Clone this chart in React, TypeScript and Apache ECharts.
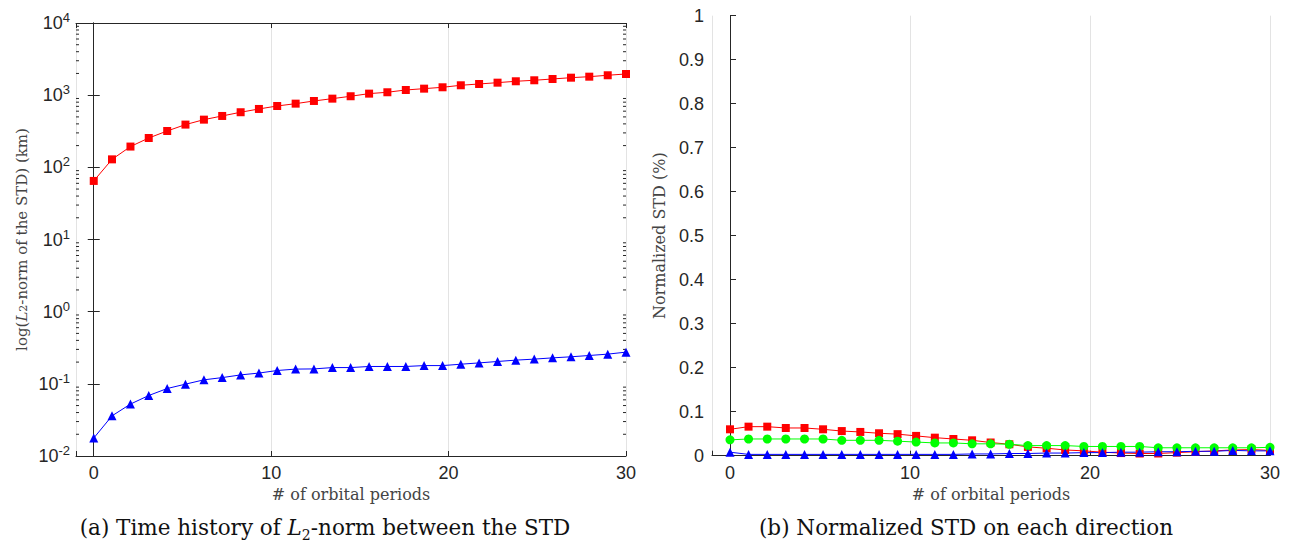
import React, { useEffect, useRef } from "react";
import * as echarts from "echarts";

// orbital period positions of the 30 samples
const periods = [0, 1.03, 2.07, 3.1, 4.14, 5.17, 6.21, 7.24, 8.28, 9.31, 10.34, 11.38, 12.41, 13.45, 14.48, 15.52, 16.55, 17.59, 18.62, 19.66, 20.69, 21.72, 22.76, 23.79, 24.83, 25.86, 26.9, 27.93, 28.97, 30];

// (a) L2-norm of the STD (km)
const normRed = [64.8, 129, 194, 255, 319, 391, 458, 515, 580, 644, 708, 763, 831, 895, 966, 1050, 1097, 1180, 1231, 1286, 1371, 1429, 1490, 1558, 1608, 1676, 1747, 1804, 1887, 1966];
const normBlue = [0.0177, 0.036, 0.0524, 0.0689, 0.0861, 0.099, 0.1136, 0.122, 0.133, 0.141, 0.153, 0.16, 0.161, 0.168, 0.168, 0.174, 0.174, 0.174, 0.179, 0.179, 0.187, 0.195, 0.204, 0.213, 0.22, 0.229, 0.237, 0.247, 0.258, 0.275];

// (b) Normalized STD (%)
const stdRed = [0.06, 0.066, 0.066, 0.063, 0.063, 0.06, 0.056, 0.054, 0.051, 0.049, 0.045, 0.041, 0.038, 0.035, 0.03, 0.026, 0.02, 0.017, 0.013, 0.011, 0.008, 0.006, 0.005, 0.005, 0.007, 0.009, 0.011, 0.013, 0.014, 0.012];
const stdGreen = [0.036, 0.038, 0.038, 0.038, 0.038, 0.038, 0.035, 0.035, 0.035, 0.033, 0.031, 0.029, 0.029, 0.027, 0.027, 0.026, 0.023, 0.023, 0.023, 0.021, 0.021, 0.021, 0.021, 0.018, 0.018, 0.018, 0.018, 0.018, 0.018, 0.019];
const stdBlue = [0.008, 0.003, 0.003, 0.003, 0.003, 0.003, 0.003, 0.003, 0.003, 0.003, 0.003, 0.003, 0.003, 0.004, 0.004, 0.005, 0.005, 0.006, 0.006, 0.007, 0.007, 0.008, 0.008, 0.009, 0.009, 0.01, 0.01, 0.012, 0.011, 0.011];

// log-axis minor tick values (2..9 x 10^k)
const minorLogTicks: number[] = [];
for (let k = -2; k <= 3; k++) for (let m = 2; m <= 9; m++) minorLogTicks.push(m * Math.pow(10, k));

const AX = "#262626";
const GRID = "#e3e3e3";
const SANS = "Liberation Sans, Arial, sans-serif";
const SERIF = "DejaVu Serif, serif";
const TICK_FS = 18;

const pair = (ys: number[]) => ys.map((y, i) => [periods[i], y]);

export default function App() {
  const ref = useRef<HTMLDivElement>(null);
  useEffect(() => {
    if (!ref.current) return;
    const chart = echarts.init(ref.current, undefined, { renderer: "svg" });
    const xLabel = {
      color: AX,
      fontFamily: SANS,
      fontSize: TICK_FS,
      margin: 8,
      formatter: (v: number) => (v < 0 ? "" : String(v)),
    };
    const xName = {
      color: "#444",
      fontFamily: SERIF,
      fontSize: 16,
    };
    const option: any = {
      animation: false,
      backgroundColor: "#fff",
      grid: [
        { left: 76, top: 23, width: 550, height: 433 },
        { left: 712, top: 15.7, width: 558, height: 440 },
      ],
      xAxis: [
        {
          type: "value", gridIndex: 0, min: -1, max: 30, splitNumber: 3,
          axisLine: { lineStyle: { color: AX } },
          axisTick: { inside: true, length: 5, lineStyle: { color: AX } },
          axisLabel: xLabel,
          splitLine: { show: true, lineStyle: { color: GRID } },
          name: "# of orbital periods", nameLocation: "middle", nameGap: 28,
          nameTextStyle: xName,
        },
        {
          type: "value", gridIndex: 0, min: -1, max: 30, splitNumber: 3, position: "top",
          axisLine: { lineStyle: { color: AX } },
          axisTick: { inside: true, length: 5, lineStyle: { color: AX } },
          axisLabel: { show: false },
          splitLine: { show: false },
        },
        {
          type: "value", gridIndex: 1, min: -1, max: 30, splitNumber: 3,
          axisLine: { lineStyle: { color: AX } },
          axisTick: { inside: true, length: 5, lineStyle: { color: AX } },
          axisLabel: xLabel,
          splitLine: { show: true, lineStyle: { color: GRID } },
          name: "# of orbital periods", nameLocation: "middle", nameGap: 28,
          nameTextStyle: xName,
        },
      ],
      yAxis: [
        {
          type: "log", gridIndex: 0, min: 0.01, max: 10000, logBase: 10, splitNumber: 6,
          axisLine: { show: true, lineStyle: { color: AX } },
          axisTick: { inside: true, length: 6, lineStyle: { color: AX } },
          splitLine: { show: false },
          axisLabel: {
            color: AX, margin: 6,
            formatter: (v: number) => `{b|10}{s|${Math.round(Math.log10(v))}}`,
            rich: {
              b: { fontFamily: SANS, fontSize: TICK_FS, color: AX, lineHeight: 24 },
              s: { fontFamily: SANS, fontSize: 13, color: AX, verticalAlign: "top", lineHeight: 24 },
            },
          },
          name: "log({i|L}{sub|2}-norm of the STD) (km)",
          nameLocation: "middle", nameGap: 47, nameRotate: 90,
          nameTextStyle: {
            color: "#444", fontFamily: SERIF, fontSize: 15,
            rich: {
              i: { fontFamily: SERIF, fontSize: 15, fontStyle: "italic", color: "#444" },
              sub: { fontFamily: SERIF, fontSize: 11, color: "#444", verticalAlign: "bottom" },
            },
          },
        },
        {
          type: "log", gridIndex: 0, min: 0.01, max: 10000, logBase: 10, splitNumber: 6, position: "right",
          axisLine: { show: true, lineStyle: { color: AX } },
          axisTick: { inside: true, length: 6, lineStyle: { color: AX } },
          splitLine: { show: false },
          axisLabel: { show: false },
        },
        {
          type: "value", gridIndex: 1, min: 0, max: 1, interval: 0.1,
          axisLine: { show: true, lineStyle: { color: AX } },
          axisTick: { inside: true, length: 6, lineStyle: { color: AX } },
          splitLine: { show: false },
          axisLabel: { color: AX, fontFamily: SANS, fontSize: TICK_FS, margin: 8 },
          name: "Normalized STD (%)",
          nameLocation: "middle", nameGap: 45, nameRotate: 90,
          nameTextStyle: { color: "#444", fontFamily: SERIF, fontSize: 16 },
        },
      ],
      series: [
        {
          type: "custom", xAxisIndex: 0, yAxisIndex: 0, silent: true, clip: false,
          data: minorLogTicks.map((v) => [-1, v]),
          renderItem: (_p: any, api: any) => {
            const v = api.value(1);
            const l = api.coord([-1, v]);
            const r = api.coord([30, v]);
            const st = { stroke: AX, lineWidth: 1 };
            return {
              type: "group",
              children: [
                { type: "line", shape: { x1: l[0], y1: l[1], x2: l[0] + 3, y2: l[1] }, style: st },
                { type: "line", shape: { x1: r[0], y1: r[1], x2: r[0] - 3, y2: r[1] }, style: st },
              ],
            };
          },
        },
        {
          type: "line", xAxisIndex: 0, yAxisIndex: 0, data: pair(normRed),
          symbol: "rect", symbolSize: 8, lineStyle: { color: "#ff0000", width: 1 },
          itemStyle: { color: "#ff0000" },
        },
        {
          type: "line", xAxisIndex: 0, yAxisIndex: 0, data: pair(normBlue),
          symbol: "triangle", symbolSize: 9, lineStyle: { color: "#0000ff", width: 1 },
          itemStyle: { color: "#0000ff" },
        },
        {
          type: "line", xAxisIndex: 2, yAxisIndex: 2, data: pair(stdRed),
          symbol: "rect", symbolSize: 8, lineStyle: { color: "#ff0000", width: 1 },
          itemStyle: { color: "#ff0000" },
        },
        {
          type: "line", xAxisIndex: 2, yAxisIndex: 2, data: pair(stdGreen),
          symbol: "circle", symbolSize: 9, lineStyle: { color: "#00ff00", width: 1 },
          itemStyle: { color: "#00ff00" },
        },
        {
          type: "line", xAxisIndex: 2, yAxisIndex: 2, data: pair(stdBlue),
          symbol: "triangle", symbolSize: 9, lineStyle: { color: "#0000ff", width: 1 },
          itemStyle: { color: "#0000ff" },
        },
      ],
      graphic: [
        {
          type: "text", x: 325, y: 527,
          style: {
            text: "(a) Time history of {i|L}{sub|2}-norm between the STD",
            fontFamily: SERIF, fontSize: 21.5, fill: "#111",
            align: "center", verticalAlign: "middle",
            rich: {
              i: { fontFamily: SERIF, fontSize: 21.5, fontStyle: "italic", fill: "#111", lineHeight: 30 },
              sub: { fontFamily: SERIF, fontSize: 14, fill: "#111", verticalAlign: "bottom", lineHeight: 26 },
            },
          },
        },
        {
          type: "text", x: 966, y: 527,
          style: {
            text: "(b) Normalized STD on each direction",
            fontFamily: SERIF, fontSize: 21.5, fill: "#111",
            align: "center", verticalAlign: "middle",
          },
        },
      ],
    };
    chart.setOption(option);
    return () => chart.dispose();
  }, []);
  return (
    <div
      ref={ref}
      style={{ position: "fixed", left: 0, top: 0, width: 1290, height: 546, background: "#fff" }}
    />
  );
}
